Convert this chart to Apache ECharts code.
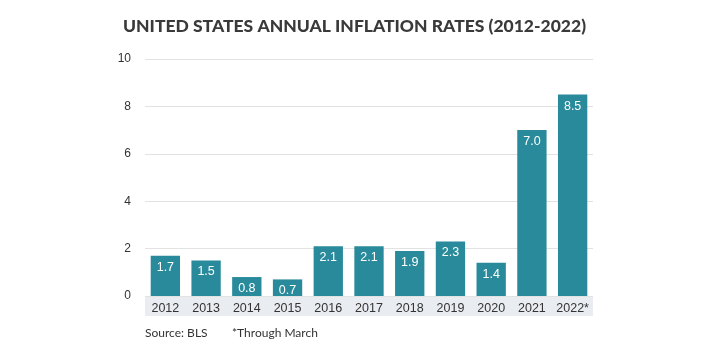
<!DOCTYPE html>
<html><head><meta charset="utf-8">
<script src="https://cdn.jsdelivr.net/npm/echarts@6/dist/echarts.min.js"></script>
<style>html,body{margin:0;padding:0;background:#fff}#c{width:720px;height:360px}</style>
</head><body><div id="c"></div>
<script>
var categories = ['2012','2013','2014','2015','2016','2017','2018','2019','2020','2021','2022*'];
var values = [1.7,1.5,0.8,0.7,2.1,2.1,1.9,2.3,1.4,7.0,8.5];
var yTicks = [0,2,4,6,8,10];

var chart = echarts.init(document.getElementById('c'), null, {renderer:'canvas'});
var gl = 145, gr = 127, gt = 59, gb = 64;
chart.setOption({
  animation:false,
  title:{text:'UNITED STATES ANNUAL INFLATION RATES (2012-2022)', left:118, top:12,
    textStyle:{fontFamily:'Lato', fontWeight:900, fontSize:17.5, color:'#3a3a3a'}},
  grid:{left:gl, right:gr, top:gt, bottom:gb},
  graphic:[
    {type:'rect', left:gl, top:296, shape:{width:720-gl-gr, height:20}, style:{fill:'#e9ecf0'}, z:-1},
    {type:'text', left:gl, top:327, style:{text:'Source: BLS', font:'12px Lato', fill:'#333'}},
    {type:'text', left:232, top:327, style:{text:'*Through March', font:'12px Lato', fill:'#333'}}
  ],
  xAxis:{type:'category', data:categories, axisLine:{show:false}, axisTick:{show:false},
    axisLabel:{interval:0, color:'#333', fontFamily:'Liberation Sans', fontSize:12.5, margin:6}},
  yAxis:{type:'value', min:0, max:10, interval:2, axisLine:{show:false}, axisTick:{show:false},
    axisLabel:{color:'#333', fontFamily:'Liberation Sans', fontSize:12, margin:14,
      formatter:function(v){return yTicks.indexOf(v)>=0?String(v):'';}},
    splitLine:{lineStyle:{color:'#e2e2e2', width:1}}},
  series:[{type:'bar', data:values, barWidth:'72%', itemStyle:{color:'#288a9b'},
    label:{show:true, position:'insideTop', distance:5, color:'#fff', fontFamily:'Liberation Sans', fontSize:12.5,
      formatter:function(p){return p.value.toFixed(1);}}}]
});
</script></body></html>
